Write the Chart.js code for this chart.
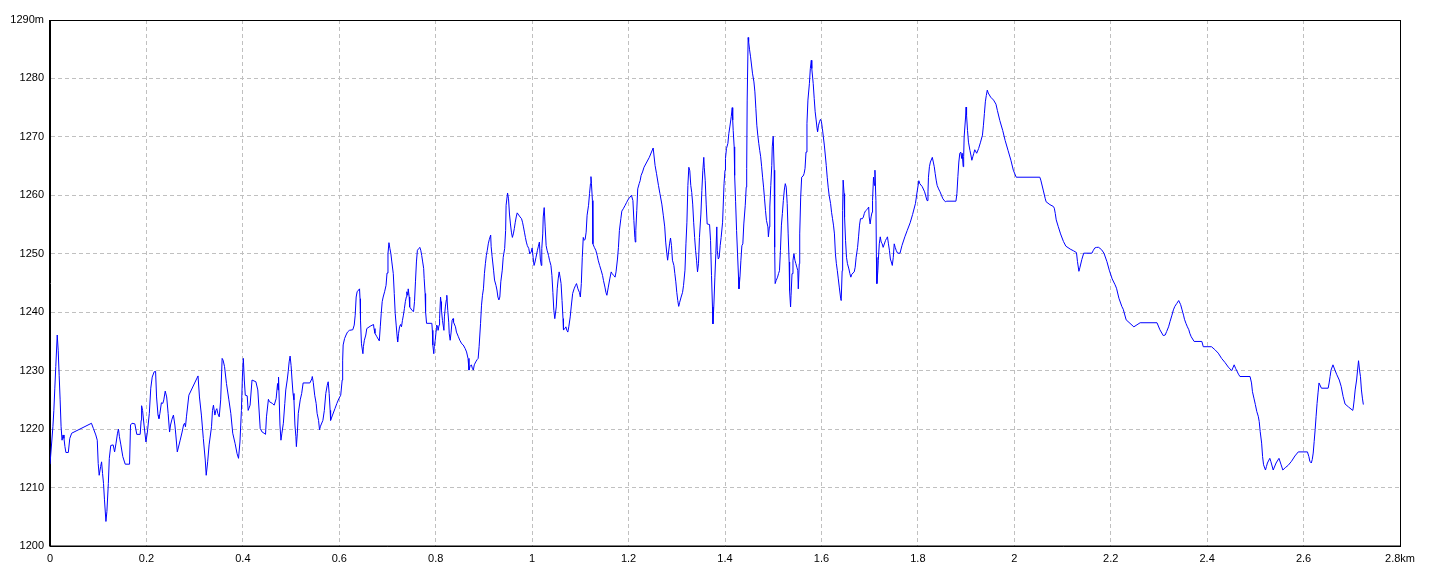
<!DOCTYPE html>
<html>
<head>
<meta charset="utf-8">
<script src="https://cdn.jsdelivr.net/npm/chart.js@4.4.0/dist/chart.umd.min.js"></script>
<style>
html,body{margin:0;padding:0;background:#ffffff;}
#wrap{width:1440px;height:576px;position:relative;}
</style>
</head>
<body>
<div id="wrap"><canvas id="c" width="1440" height="576"></canvas></div>
<script>
// distance along the track (km)
const distanceKm = [
0.000,0.006,0.008,0.010,0.012,0.015,0.017,0.019,0.021,0.023,
0.025,0.027,0.029,0.031,0.033,0.038,0.041,0.045,0.086,0.090,
0.095,0.098,0.100,0.102,0.105,0.107,0.109,0.111,0.113,0.116,
0.118,0.121,0.123,0.126,0.131,0.134,0.137,0.140,0.142,0.144,
0.147,0.151,0.156,0.165,0.167,0.170,0.176,0.180,0.187,0.189,
0.190,0.192,0.195,0.199,0.202,0.206,0.209,0.212,0.216,0.219,
0.221,0.224,0.226,0.228,0.231,0.234,0.236,0.239,0.242,0.245,
0.248,0.250,0.253,0.256,0.259,0.261,0.264,0.270,0.274,0.277,
0.279,0.281,0.283,0.288,0.307,0.310,0.314,0.318,0.322,0.324,
0.327,0.330,0.335,0.337,0.339,0.342,0.344,0.346,0.348,0.351,
0.354,0.357,0.359,0.362,0.366,0.371,0.375,0.379,0.384,0.388,
0.391,0.394,0.397,0.399,0.401,0.403,0.405,0.409,0.411,0.415,
0.419,0.427,0.431,0.436,0.440,0.444,0.447,0.449,0.453,0.455,
0.461,0.465,0.469,0.472,0.473,0.474,0.477,0.479,0.481,0.484,
0.487,0.489,0.492,0.494,0.496,0.498,0.500,0.502,0.504,0.506,
0.508,0.510,0.511,0.513,0.515,0.519,0.522,0.525,0.539,0.543,
0.544,0.546,0.549,0.552,0.554,0.557,0.559,0.561,0.566,0.569,
0.572,0.575,0.577,0.579,0.581,0.582,0.586,0.591,0.595,0.599,
0.603,0.606,0.607,0.608,0.611,0.614,0.617,0.621,0.628,0.631,
0.633,0.635,0.637,0.642,0.643,0.644,0.646,0.649,0.650,0.652,
0.655,0.657,0.664,0.671,0.672,0.674,0.678,0.683,0.685,0.687,
0.689,0.691,0.694,0.697,0.699,0.701,0.703,0.705,0.707,0.709,
0.712,0.714,0.716,0.718,0.720,0.721,0.723,0.725,0.727,0.729,
0.731,0.733,0.735,0.737,0.739,0.740,0.742,0.743,0.745,0.746,
0.751,0.754,0.756,0.758,0.760,0.762,0.765,0.767,0.769,0.771,
0.773,0.775,0.776,0.778,0.779,0.781,0.792,0.793,0.794,0.796,
0.797,0.799,0.801,0.802,0.804,0.805,0.807,0.808,0.810,0.811,
0.812,0.814,0.817,0.818,0.820,0.822,0.823,0.825,0.827,0.828,
0.830,0.832,0.834,0.836,0.837,0.841,0.843,0.847,0.850,0.854,
0.857,0.861,0.864,0.867,0.869,0.871,0.874,0.876,0.878,0.880,
0.883,0.886,0.888,0.890,0.893,0.895,0.897,0.899,0.901,0.903,
0.905,0.907,0.909,0.911,0.914,0.915,0.917,0.920,0.922,0.925,
0.927,0.929,0.931,0.933,0.935,0.938,0.940,0.943,0.945,0.946,
0.949,0.951,0.953,0.955,0.957,0.959,0.961,0.963,0.965,0.967,
0.969,0.975,0.978,0.980,0.982,0.984,0.986,0.988,0.990,0.993,
0.995,0.998,1.000,1.002,1.004,1.006,1.008,1.011,1.013,1.015,
1.017,1.019,1.020,1.022,1.023,1.025,1.027,1.029,1.031,1.034,
1.036,1.039,1.041,1.043,1.045,1.047,1.050,1.052,1.054,1.056,
1.058,1.060,1.062,1.064,1.065,1.068,1.070,1.072,1.074,1.076,
1.079,1.081,1.084,1.087,1.090,1.092,1.095,1.098,1.100,1.102,
1.104,1.106,1.108,1.110,1.112,1.114,1.117,1.119,1.121,1.122,
1.123,1.125,1.126,1.129,1.132,1.135,1.137,1.140,1.143,1.146,
1.148,1.151,1.153,1.155,1.158,1.161,1.164,1.166,1.169,1.172,
1.174,1.177,1.179,1.181,1.184,1.186,1.189,1.193,1.196,1.200,
1.203,1.206,1.209,1.211,1.213,1.214,1.215,1.217,1.219,1.222,
1.224,1.226,1.229,1.232,1.243,1.251,1.255,1.258,1.262,1.265,
1.269,1.272,1.275,1.277,1.279,1.281,1.283,1.285,1.287,1.289,
1.291,1.294,1.296,1.298,1.300,1.302,1.304,1.306,1.309,1.312,
1.314,1.317,1.319,1.321,1.323,1.325,1.327,1.329,1.331,1.333,
1.335,1.337,1.339,1.341,1.343,1.345,1.347,1.350,1.352,1.354,
1.356,1.357,1.359,1.361,1.363,1.368,1.370,1.372,1.374,1.375,
1.377,1.379,1.381,1.383,1.384,1.386,1.388,1.390,1.392,1.395,
1.398,1.400,1.401,1.403,1.406,1.408,1.410,1.412,1.413,1.415,
1.416,1.417,1.419,1.420,1.422,1.424,1.426,1.428,1.429,1.431,
1.433,1.435,1.437,1.439,1.442,1.444,1.445,1.446,1.448,1.449,
1.451,1.453,1.455,1.457,1.460,1.462,1.464,1.466,1.468,1.470,
1.472,1.474,1.476,1.478,1.480,1.482,1.484,1.486,1.489,1.490,
1.492,1.493,1.495,1.497,1.498,1.500,1.502,1.503,1.504,1.506,
1.509,1.511,1.513,1.515,1.517,1.519,1.521,1.523,1.525,1.527,
1.529,1.531,1.533,1.534,1.536,1.537,1.539,1.541,1.543,1.545,
1.547,1.549,1.551,1.552,1.554,1.555,1.557,1.559,1.562,1.564,
1.566,1.568,1.570,1.572,1.575,1.577,1.579,1.580,1.583,1.585,
1.587,1.589,1.591,1.592,1.594,1.596,1.598,1.600,1.602,1.604,
1.606,1.608,1.610,1.612,1.614,1.616,1.619,1.621,1.623,1.625,
1.627,1.629,1.631,1.633,1.635,1.637,1.640,1.641,1.643,1.644,
1.645,1.647,1.648,1.650,1.652,1.654,1.657,1.659,1.661,1.663,
1.668,1.670,1.672,1.675,1.677,1.679,1.681,1.685,1.687,1.689,
1.691,1.696,1.698,1.699,1.701,1.703,1.705,1.706,1.708,1.710,
1.711,1.713,1.714,1.715,1.717,1.718,1.720,1.722,1.724,1.726,
1.728,1.733,1.735,1.737,1.739,1.741,1.743,1.745,1.747,1.749,
1.751,1.753,1.755,1.758,1.763,1.767,1.773,1.778,1.784,1.789,
1.795,1.799,1.802,1.804,1.809,1.814,1.819,1.821,1.822,1.824,
1.826,1.830,1.832,1.834,1.836,1.838,1.840,1.843,1.846,1.849,
1.852,1.857,1.860,1.879,1.881,1.883,1.885,1.887,1.889,1.891,
1.892,1.894,1.895,1.896,1.899,1.900,1.901,1.903,1.905,1.908,
1.910,1.912,1.914,1.916,1.918,1.922,1.926,1.930,1.934,1.936,
1.938,1.940,1.942,1.944,1.946,1.951,1.957,1.962,1.965,1.970,
1.976,1.981,1.987,1.993,1.998,2.004,2.053,2.055,2.060,2.064,
2.066,2.074,2.081,2.083,2.085,2.087,2.091,2.096,2.102,2.107,
2.116,2.123,2.129,2.131,2.134,2.136,2.140,2.144,2.161,2.164,
2.167,2.171,2.175,2.181,2.186,2.192,2.197,2.203,2.209,2.212,
2.217,2.223,2.226,2.232,2.248,2.261,2.296,2.302,2.309,2.313,
2.316,2.320,2.323,2.327,2.330,2.333,2.337,2.341,2.345,2.348,
2.351,2.353,2.356,2.359,2.362,2.364,2.367,2.373,2.389,2.392,
2.409,2.416,2.423,2.430,2.437,2.444,2.451,2.454,2.456,2.459,
2.465,2.468,2.489,2.492,2.494,2.497,2.500,2.503,2.506,2.508,
2.510,2.513,2.515,2.517,2.521,2.523,2.525,2.530,2.532,2.537,
2.543,2.549,2.553,2.557,2.562,2.568,2.575,2.582,2.589,2.608,
2.611,2.613,2.616,2.618,2.620,2.622,2.624,2.626,2.628,2.630,
2.632,2.637,2.651,2.653,2.655,2.657,2.661,2.665,2.669,2.674,
2.678,2.682,2.686,2.693,2.702,2.703,2.705,2.707,2.710,2.712,
2.714,2.716,2.718,2.720,2.722,2.724
];

// elevation (m)
const elevationM = [
1214,1220.4,1223.2,1227,1230.7,1236.1,1233.5,1229.2,1225,1220.4,
1218.1,1219,1218.4,1217,1216,1216,1218.4,1219.3,1221,1220.1,
1219,1218.1,1214.1,1212.1,1213.6,1214.4,1212.4,1210.7,1207.9,1204.2,
1205.9,1210.7,1215,1217.2,1217.3,1216.1,1217.6,1219.3,1220,1218.7,
1217.3,1215.3,1214,1214,1220.7,1221,1220.9,1219.1,1219.1,1221.5,
1224,1223.2,1220.7,1217.8,1219.5,1222.7,1227,1228.9,1229.8,1229.9,
1225.5,1222.4,1221.8,1222.7,1224.5,1224.4,1225,1226.5,1225.5,1222.7,
1219.5,1220.7,1221.7,1222.4,1220.7,1219,1216.1,1218.1,1219.5,1220.7,
1221,1220.4,1222.1,1225.8,1229.1,1225.5,1222.4,1218.4,1214.7,1212.1,
1214.4,1217.3,1220.4,1223.2,1224.1,1222.4,1223.2,1223.5,1222.7,1222.1,
1225,1232.1,1231.8,1230.7,1227.8,1225,1222.7,1219.3,1217.5,1215.8,
1215,1217.8,1223.2,1228.9,1232.1,1228.4,1225.8,1225.7,1223.2,1224.1,
1228.4,1228.1,1226.7,1220.1,1219.5,1219.3,1219.1,1222.1,1225.1,1224.7,
1224.4,1224.1,1225.2,1227.8,1226.7,1228.9,1220.7,1218.1,1219.3,1221,
1224.4,1226.7,1228.4,1229.8,1231.5,1232.5,1230.9,1228.4,1226.1,1225,
1220.7,1218.7,1217,1219.3,1222.7,1225,1226.1,1227.9,1227.9,1228.6,
1229,1228,1225.8,1224.4,1222.7,1221.5,1219.9,1220.5,1221.5,1223.2,
1226.1,1227.5,1228.1,1226.1,1223.2,1221.5,1222.4,1223.5,1224.4,1225.2,
1225.8,1228.4,1231.8,1234.4,1235.5,1236.1,1236.6,1236.9,1237,1237.8,
1239.5,1242.6,1243.5,1244,1242.3,1238.6,1234.6,1232.9,1234.1,1235.2,
1236.1,1237.2,1237.6,1237.9,1237.2,1236.4,1235.8,1235.1,1237.5,1239.8,
1241.8,1242.6,1243.5,1244.6,1246.7,1250,1251.9,1250.9,1250,1248.6,
1246.6,1243.2,1239.8,1237.8,1235.8,1234.9,1236.4,1237.5,1237.9,1237.5,
1238.6,1239.5,1240.6,1241.8,1242.6,1243.5,1242.9,1244,1242.6,1240.9,
1240.3,1240.1,1241.8,1245.2,1248.6,1250.6,1250.9,1251.1,1250.6,1249.7,
1248.6,1247.5,1245.8,1243.2,1240.1,1238.1,1238.1,1236.9,1234.4,1232.9,
1234.1,1235.2,1236.9,1237.8,1237.5,1236.9,1237.8,1238.9,1242.6,1241.8,
1240.3,1238.6,1236.9,1239.2,1240.9,1242.1,1242.9,1240.3,1238.3,1236.4,
1235.2,1236.6,1238.6,1238.9,1238.3,1237.5,1236.6,1235.8,1235.2,1234.6,
1234.4,1233.8,1233.2,1232.1,1230.1,1230.7,1231,1230.4,1230.1,1231,
1231.5,1231.9,1232.1,1234.1,1238.1,1241.2,1242.9,1244,1246.6,1248.3,
1249.7,1250.6,1251.7,1252.4,1253.2,1251.2,1249.5,1247.2,1245.5,1244.6,
1243.8,1242.6,1242.1,1242.6,1245.2,1247.2,1249.4,1250.9,1254,1258.3,
1260.4,1259.4,1256.8,1255.1,1253.7,1252.8,1253.4,1254.3,1255.4,1256.3,
1257,1256.3,1256,1255.4,1254.6,1253.7,1252.8,1252,1251.4,1250.9,
1250,1250.3,1251,1249.4,1248,1248.6,1249.4,1250.6,1251.3,1252,
1249.1,1248,1250.9,1253.4,1256.3,1257.9,1254.6,1251.4,1250.6,1249.7,
1248.9,1248,1246.3,1243.4,1240.3,1238.9,1240.9,1244,1245.7,1246.9,
1246,1244.9,1242,1238.9,1237,1237.2,1237.5,1236.9,1236.6,1237.5,
1239.2,1240.9,1243.2,1244,1244.6,1244.9,1244,1243.4,1242.6,1244.9,
1249.4,1252.8,1252.3,1252.5,1253.7,1256.6,1258.3,1260.3,1262,1263.2,
1262,1259.1,1251.7,1251.1,1250.6,1249.7,1248.9,1248,1247.2,1246.3,
1245.4,1244.3,1243.4,1242.9,1244.3,1245.7,1246.9,1246.6,1246.3,1246,
1246.9,1249.1,1251.1,1254,1256,1257.3,1257.7,1258.3,1258.8,1259.4,
1259.7,1260,1259.1,1255.7,1252.8,1252,1254,1257.4,1261.1,1262,
1262.5,1263.4,1264,1264.8,1266.5,1268.1,1265.1,1263.7,1261.7,1260.3,
1258.5,1256.6,1254.6,1252,1250.3,1248.9,1250.3,1251.7,1252.7,1251.4,
1248.9,1248,1246.6,1245.2,1243.4,1242,1241,1241.7,1242.6,1243.4,
1244.6,1247.2,1251.7,1255.4,1261.7,1264.8,1264.2,1261.7,1260.5,1258.5,
1255.4,1252.8,1250.6,1248.9,1246.9,1248.3,1252.8,1256.8,1260.8,1264.2,
1266.5,1264.8,1262.5,1258.5,1255.1,1255,1252.3,1246.3,1240.9,1238,
1241.4,1246,1250,1254.6,1250.6,1249.1,1249.4,1251.4,1252.8,1255.4,
1262,1264.3,1266.3,1268,1268.9,1270.6,1271.7,1272.9,1273.5,1275,
1272.9,1271.1,1268.3,1263.4,1258.9,1254,1250,1246,1244,1246,
1248.9,1251.4,1251.7,1255.1,1258.3,1261.4,1264.6,1276.3,1287,1286.3,
1284.9,1283.7,1282.3,1280.9,1279.4,1277.7,1274.9,1272,1270.3,1268.9,
1267.7,1266.6,1264.9,1263.1,1261.4,1259.4,1257.4,1255.7,1254.6,1252.9,
1254.6,1258,1261.7,1265.1,1268.3,1270.1,1264.3,1251.1,1244.9,1245.4,
1246,1246.6,1247.1,1250.6,1254.9,1256.9,1259.1,1260.9,1262,1261.4,
1258.6,1253.4,1248.6,1243.7,1240.9,1242.9,1246.6,1248.9,1250,1248.9,
1248.3,1247.7,1247.1,1244,1248.3,1253.4,1259.7,1263.1,1263.3,1263.7,
1264.6,1267.4,1272.3,1276.3,1279.1,1281.7,1283.1,1281.7,1279.1,1276.6,
1274.3,1272.9,1271.4,1270.9,1272,1272.6,1273,1272.6,1271.4,1270,
1268.6,1266.9,1265.1,1263.1,1261.4,1260,1258.6,1257.1,1256,1254.9,
1253.4,1250,1248.3,1247.1,1245.7,1244.3,1242.3,1242,1247.1,1257.4,
1262.6,1260.3,1256.3,1252.3,1249.4,1248.3,1247.4,1246.6,1246,1246.5,
1246.9,1247.7,1249.4,1251.1,1252.9,1254.9,1256,1256,1256.3,1256.9,
1257.3,1257.7,1258,1256.3,1255.1,1256.3,1257.1,1259.1,1263.1,1261.7,
1264.3,1259.1,1249.4,1244.9,1247.1,1248.9,1251.7,1252.9,1252,1251.7,
1251.1,1252.3,1252.6,1252.9,1251.7,1250.6,1249.1,1248.6,1248,1249.4,
1251.7,1251.1,1250.6,1250.1,1250.1,1251.4,1252.9,1254,1255.3,1256.7,
1258.6,1260.9,1262.5,1262,1261.5,1260.6,1259.1,1260.6,1263.1,1264.9,
1265.7,1266.5,1265.7,1264.9,1263.7,1262.6,1261.7,1261.1,1260.6,1260,
1259.4,1258.9,1259,1259,1260.3,1263.2,1265.7,1267.2,1267.4,1266.3,
1267.2,1264.9,1266.6,1270,1273.4,1275.1,1273.7,1271.1,1269.1,1267.7,
1266.9,1266,1266.6,1267.2,1267.8,1267.2,1268,1269.1,1270.3,1272,
1274,1276,1277.1,1278,1277.5,1276.8,1276.3,1275.6,1274.5,1272.8,
1271.1,1269.4,1267.7,1266,1264.3,1263.1,1263.1,1262.6,1260.9,1259.5,
1258.9,1258.4,1258.1,1257.8,1256.9,1255.8,1254.7,1253.4,1252.1,1251.3,
1250.8,1250.5,1250.2,1248.7,1247,1247.6,1249,1250.1,1250.1,1250.6,
1251,1251.1,1251.1,1250.7,1250.1,1248.7,1247.2,1245.7,1244.7,1244.1,
1242.4,1241,1240.5,1238.7,1237.5,1238.2,1238.2,1237,1236,1236.1,
1236.7,1237.5,1238.4,1239.5,1240.4,1241,1241.5,1242,1241.3,1240.4,
1239.5,1238.8,1238.1,1237.5,1237,1236.4,1235.8,1235,1235,1234.1,
1234.1,1233.6,1233,1232.1,1231.4,1230.6,1230,1230.6,1231,1230.4,
1229.4,1229,1229,1227.9,1226.4,1225.3,1224.2,1223,1222.2,1221.3,
1219.6,1217.6,1215.3,1213.9,1213,1213.6,1214.2,1215,1214.5,1213,
1214.2,1215,1214,1213,1213.4,1213.8,1214.5,1215.4,1216.1,1216.1,
1215.3,1214.5,1214.2,1214.8,1215.9,1217.9,1219.9,1222.2,1224.4,1226.2,
1227.9,1227,1227,1227.9,1229,1230.1,1231,1230.1,1229.3,1228.4,
1227.3,1225.6,1224.3,1223.8,1223.2,1223.6,1225,1226.7,1228.4,1230.1,
1231.7,1230.1,1229,1226.7,1225.3,1224.2
];

// axis ticks and their labels
const xTickValues = [0,0.2,0.4,0.6,0.8,1,1.2,1.4,1.6,1.8,2,2.2,2.4,2.6,2.8];
const xTickLabels = ['0','0.2','0.4','0.6','0.8','1','1.2','1.4','1.6','1.8','2','2.2','2.4','2.6','2.8km'];
const yTickValues = [1200,1210,1220,1230,1240,1250,1260,1270,1280,1290];
const yTickLabels = ['1200','1210','1220','1230','1240','1250','1260','1270','1280','1290m'];

const points = distanceKm.map((d, i) => ({ x: d, y: elevationM[i] }));

const frame = {
  id: 'frame',
  afterDatasetsDraw(chart) {
    const a = chart.chartArea, ctx = chart.ctx;
    ctx.save();
    ctx.strokeStyle = '#000000';
    ctx.lineWidth = 1;
    ctx.strokeRect(Math.round(a.left) - 0.5, Math.round(a.top) + 0.5,
                   Math.round(a.right - a.left) + 1, Math.round(a.bottom - a.top) - 0.5);
    ctx.restore();
  }
};

const tickFont = { family: "'Liberation Sans', 'DejaVu Sans', sans-serif", size: 11 };

new Chart(document.getElementById('c'), {
  type: 'line',
  data: {
    datasets: [{
      data: points,
      borderColor: '#0000ff',
      borderWidth: 1,
      pointRadius: 0,
      tension: 0,
      fill: false
    }]
  },
  options: {
    responsive: false,
    animation: false,
    devicePixelRatio: 1,
    layout: { padding: { top: 20, right: 40, left: 0, bottom: 0 } },
    plugins: { legend: { display: false }, tooltip: { enabled: false } },
    scales: {
      x: {
        type: 'linear',
        min: 0, max: 2.8,
        afterBuildTicks: s => { s.ticks = xTickValues.map(v => ({ value: v })); },
        afterFit: s => { s.height = 30; },
        ticks: {
          autoSkip: false, maxRotation: 0, padding: 6,
          color: '#000000', font: tickFont,
          callback: (v, i) => xTickLabels[i]
        },
        grid: { color: '#c0c0c0', drawTicks: false, lineWidth: 1 },
        border: { display: true, color: '#000000', width: 1, dash: [4, 3] }
      },
      y: {
        min: 1200, max: 1290,
        afterBuildTicks: s => { s.ticks = yTickValues.map(v => ({ value: v })); },
        afterFit: s => { s.width = 50; },
        ticks: {
          autoSkip: false, padding: 6,
          color: '#000000', font: tickFont,
          callback: (v, i) => yTickLabels[i]
        },
        grid: { color: '#c0c0c0', drawTicks: false, lineWidth: 1 },
        border: { display: true, color: '#000000', width: 1, dash: [4, 3] }
      }
    }
  },
  plugins: [frame]
});
</script>
</body>
</html>
